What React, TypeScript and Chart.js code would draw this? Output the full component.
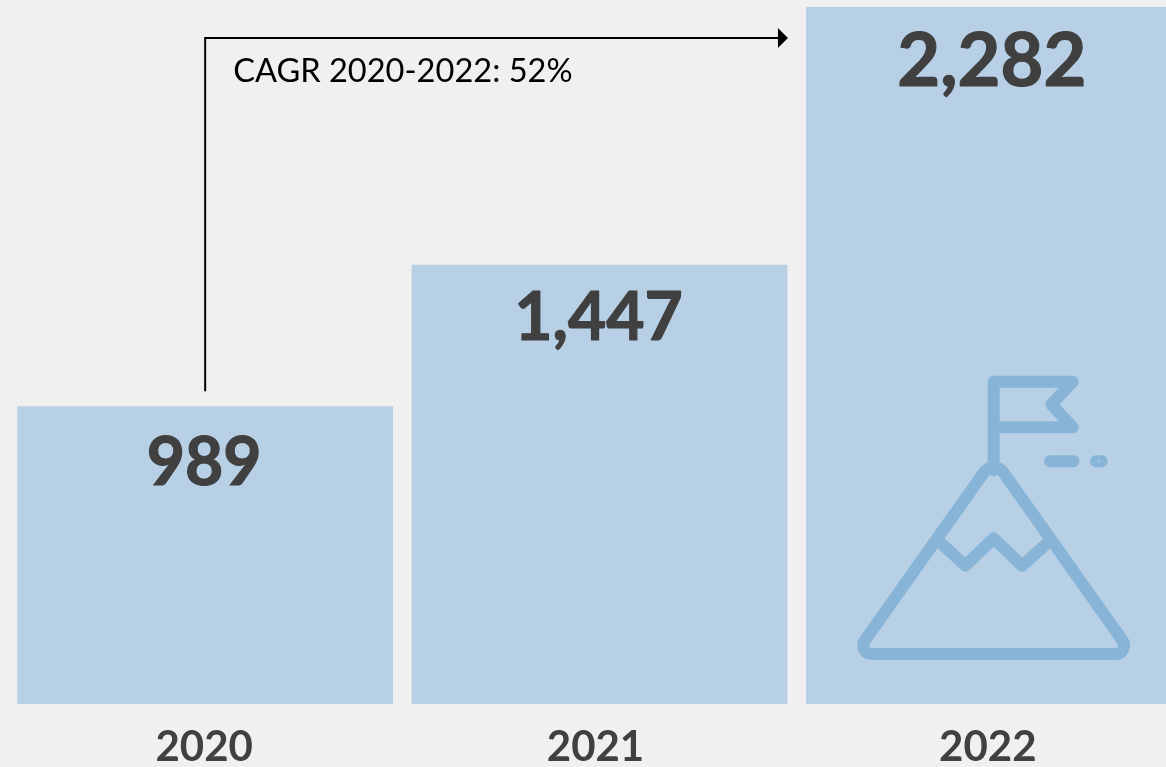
import React, { useEffect, useRef } from "react";
import { Chart, registerables } from "chart.js";

Chart.register(...registerables);

const categories = ["2020", "2021", "2022"];
const revenue = [989, 1447, 2282];
const cagrLabel = "CAGR 2020-2022: 52%";

const FONT = "Lato, Carlito, Calibri, sans-serif";
const BG = "#f0f0f0";
const BAR = "#b8d0e5";
const ICON = "#88b5d7";
const TEXT = "#404040";

// Small horizontal nudges of the axis labels relative to the bar centres.
const tickNudge = [-1, -4, -6];
const valueNudge = [-1, -1, -2];
const valueDrop = [57, 54, 55];
const valueSize = [66, 66, 74];

const tickPlugin = {
  id: "tickNudge",
  beforeDraw(chart: any) {
    const items = chart.scales.x.getLabelItems();
    items.forEach((it: any, i: number) => {
      if (!it.__moved) {
        it.options = { ...it.options };
        it.options.translation = [it.options.translation[0] + tickNudge[i], it.options.translation[1]];
        it.__moved = true;
      }
    });
  },
};

const valuePlugin = {
  id: "values",
  afterDatasetsDraw(chart: any) {
    const { ctx } = chart;
    const meta = chart.getDatasetMeta(0);
    ctx.save();
    ctx.fillStyle = TEXT;
    ctx.strokeStyle = TEXT;
    ctx.lineWidth = 1.2;
    ctx.lineJoin = "round";
    ctx.textAlign = "center";
    ctx.textBaseline = "middle";
    meta.data.forEach((bar: any, i: number) => {
      const label = revenue[i].toLocaleString("en-US");
      ctx.font = `bold ${valueSize[i]}px ${FONT}`;
      ctx.fillText(label, bar.x + valueNudge[i], bar.y + valueDrop[i]);
      ctx.strokeText(label, bar.x + valueNudge[i], bar.y + valueDrop[i]);
    });
    ctx.restore();
  },
};

const arrowPlugin = {
  id: "cagrArrow",
  afterDatasetsDraw(chart: any) {
    const { ctx } = chart;
    const bars = chart.getDatasetMeta(0).data;
    const x0 = bars[0].x;
    const yStart = bars[0].y - 15;
    const yLine = 38;
    const xTip = bars[2].x - bars[2].width / 2 - 18;
    ctx.save();
    ctx.strokeStyle = "#000";
    ctx.fillStyle = "#000";
    ctx.lineWidth = 2;
    ctx.beginPath();
    ctx.moveTo(x0, yStart);
    ctx.lineTo(x0, yLine);
    ctx.lineTo(xTip - 8, yLine);
    ctx.stroke();
    ctx.beginPath();
    ctx.moveTo(xTip, yLine);
    ctx.lineTo(xTip - 10, yLine - 10);
    ctx.lineTo(xTip - 10, yLine + 10);
    ctx.closePath();
    ctx.fill();
    ctx.font = `32.6px ${FONT}`;
    ctx.textAlign = "left";
    ctx.textBaseline = "alphabetic";
    ctx.fillText(cagrLabel, x0 + 28, 82);
    ctx.restore();
  },
};

const iconPlugin = {
  id: "mountainIcon",
  afterDatasetsDraw(chart: any) {
    const { ctx } = chart;
    const bar = chart.getDatasetMeta(0).data[2];
    const ox = bar.x - 154.5;
    const oy = 360;
    const px = (v: number) => ox + v / 3;
    const py = (v: number) => oy + v / 3;
    ctx.save();
    ctx.strokeStyle = ICON;
    ctx.lineWidth = 12;
    ctx.lineCap = "round";
    ctx.lineJoin = "round";
    const poly = (pts: number[][]) => {
      ctx.beginPath();
      pts.forEach((p, i) => (i ? ctx.lineTo(px(p[0]), py(p[1])) : ctx.moveTo(px(p[0]), py(p[1]))));
      ctx.stroke();
    };
    poly([[463, 330], [463, 65], [700, 65], [636, 133], [700, 202], [463, 202]]);
    poly([[632, 304], [702, 304]]);
    poly([[770, 304], [787, 304]]);
    poly([[300, 545], [378, 617], [463, 535], [548, 617], [628, 545]]);
    ctx.beginPath();
    ctx.moveTo(px(463), py(882));
    ctx.arcTo(px(878), py(882), px(463), py(296), 8.5);
    ctx.arcTo(px(463), py(296), px(48), py(882), 12);
    ctx.arcTo(px(48), py(882), px(463), py(882), 8.5);
    ctx.closePath();
    ctx.stroke();
    ctx.fillStyle = BAR;
    ctx.beginPath();
    ctx.arc(px(778), py(304), 1, 0, Math.PI * 2);
    ctx.fill();
    ctx.restore();
  },
};

export default function App() {
  const ref = useRef<HTMLCanvasElement | null>(null);
  useEffect(() => {
    document.body.style.margin = "0";
    document.body.style.background = BG;
    const chart = new Chart(ref.current as HTMLCanvasElement, {
      type: "bar",
      data: {
        labels: categories,
        datasets: [
          {
            data: revenue,
            backgroundColor: BAR,
            borderWidth: 0,
            categoryPercentage: 1,
            barPercentage: 0.953,
          },
        ],
      },
      options: {
        animation: false,
        responsive: false,
        layout: { padding: { left: 8, right: 0, top: 7, bottom: 0 } },
        plugins: { legend: { display: false }, tooltip: { enabled: false } },
        scales: {
          x: {
            grid: { display: false },
            border: { display: false },
            afterFit(scale: any) {
              scale.height = 63;
            },
            ticks: {
              color: TEXT,
              padding: 10,
              maxRotation: 0,
              font: { family: FONT, size: 42, weight: "bold" },
            },
          },
          y: { display: false, min: 25, max: 2282 },
        },
      },
      plugins: [tickPlugin, iconPlugin, valuePlugin, arrowPlugin],
    } as any);
    return () => chart.destroy();
  }, []);
  return (
    <div style={{ width: 1166, height: 767, overflow: "hidden", background: BG }}>
      <canvas ref={ref} width={1191} height={767} style={{ display: "block" }} />
    </div>
  );
}
